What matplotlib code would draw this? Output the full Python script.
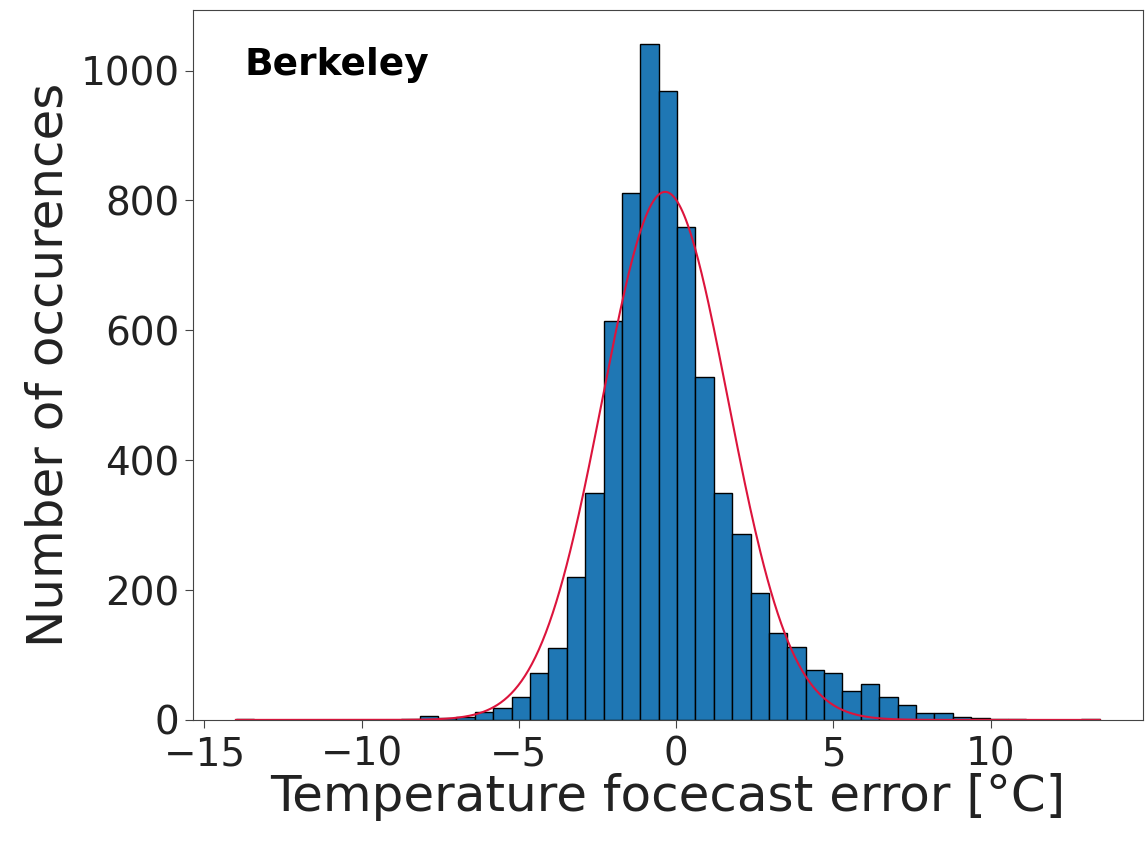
import matplotlib
matplotlib.use("Agg")
import matplotlib.pyplot as plt
import numpy as np

# histogram of forecast errors, 47 bins between the min and max error
err_min = -14.0
err_max = 13.47
n_bins = 47
counts = [1, 0, 0, 0, 0, 0, 0, 0, 0, 1,
          6, 3, 5, 12, 18, 35, 72, 111, 220, 350,
          615, 811, 1041, 969, 759, 528, 349, 287, 195, 134,
          113, 77, 73, 45, 55, 35, 23, 11, 10, 4,
          3, 2, 1, 0, 0, 0, 1]

# gaussian fit parameters
mu = -0.35
sigma = 2.0

edges = np.linspace(err_min, err_max, n_bins + 1)
width = edges[1] - edges[0]
total = sum(counts)

txt = "#222222"
fig = plt.figure(figsize=(11.47, 8.42), dpi=100)
ax = fig.add_axes([0.168, 0.145, 0.8285, 0.843])

ax.bar(edges[:-1], counts, width=width, align="edge",
       color="#1f77b4", edgecolor="black", linewidth=1.0)

x = np.linspace(err_min, err_max, 500)
pdf = np.exp(-0.5 * ((x - mu) / sigma) ** 2) / (sigma * np.sqrt(2 * np.pi))
ax.plot(x, pdf * total * width, color="crimson", linewidth=1.5)

ax.set_xticks([-15, -10, -5, 0, 5, 10])
ax.set_yticks([0, 200, 400, 600, 800, 1000])
ax.tick_params(labelsize=28, length=6, labelcolor=txt, color="#444444")
ax.tick_params(axis="x", pad=5)
for s in ax.spines.values():
    s.set_color("#444444")
ax.set_xlabel("Temperature focecast error [°C]", fontsize=36,
              labelpad=0, color=txt)
ax.set_ylabel("Number of occurences", fontsize=36, labelpad=6, color=txt)
ax.text(0.055, 0.948, "Berkeley", transform=ax.transAxes,
        fontsize=27, fontweight="bold", va="top", color="black")

fig.savefig("out.png", dpi=100)
